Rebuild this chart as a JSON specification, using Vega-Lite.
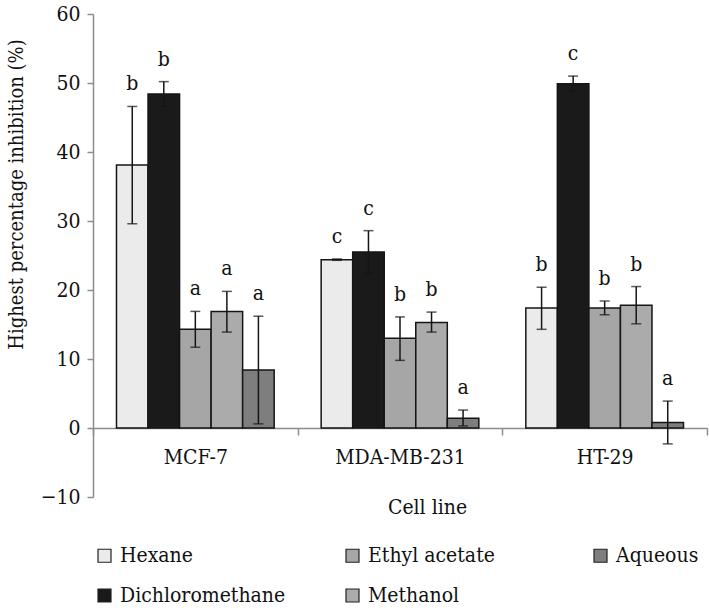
{
  "$schema": "https://vega.github.io/schema/vega-lite/v6.json",
  "width": 614,
  "height": 483,
  "autosize": {"type": "none"},
  "padding": {"left": 93, "top": 14, "right": 2, "bottom": 111},
  "background": "white",
  "config": {
    "view": {"stroke": null},
    "axis": {"labelFont": "DejaVu Serif Condensed", "titleFont": "DejaVu Serif Condensed", "labelColor": "#111", "titleColor": "#111", "titleFontWeight": "normal", "labelFontSize": 21, "titleFontSize": 21, "domainColor": "#8c8c8c", "tickColor": "#8c8c8c", "domainWidth": 1.5, "tickWidth": 1.5, "grid": false},
    "legend": {"labelFont": "DejaVu Serif Condensed", "labelFontSize": 21, "labelColor": "#111"}
  },
  "data": {"values": [
    {"cell": "MCF-7", "solvent": "Hexane", "mean": 38.1, "lo": 29.6, "hi": 46.6, "letter": "b"},
    {"cell": "MCF-7", "solvent": "Dichloromethane", "mean": 48.4, "lo": 46.6, "hi": 50.2, "letter": "b"},
    {"cell": "MCF-7", "solvent": "Ethyl acetate", "mean": 14.3, "lo": 11.7, "hi": 16.9, "letter": "a"},
    {"cell": "MCF-7", "solvent": "Methanol", "mean": 16.9, "lo": 13.9, "hi": 19.8, "letter": "a"},
    {"cell": "MCF-7", "solvent": "Aqueous", "mean": 8.4, "lo": 0.6, "hi": 16.2, "letter": "a"},
    {"cell": "MDA-MB-231", "solvent": "Hexane", "mean": 24.4, "lo": 24.3, "hi": 24.5, "letter": "c"},
    {"cell": "MDA-MB-231", "solvent": "Dichloromethane", "mean": 25.5, "lo": 22.4, "hi": 28.6, "letter": "c"},
    {"cell": "MDA-MB-231", "solvent": "Ethyl acetate", "mean": 13.0, "lo": 9.8, "hi": 16.1, "letter": "b"},
    {"cell": "MDA-MB-231", "solvent": "Methanol", "mean": 15.3, "lo": 13.9, "hi": 16.8, "letter": "b"},
    {"cell": "MDA-MB-231", "solvent": "Aqueous", "mean": 1.4, "lo": 0.3, "hi": 2.6, "letter": "a"},
    {"cell": "HT-29", "solvent": "Hexane", "mean": 17.4, "lo": 14.3, "hi": 20.4, "letter": "b"},
    {"cell": "HT-29", "solvent": "Dichloromethane", "mean": 49.9, "lo": 48.8, "hi": 51.0, "letter": "c"},
    {"cell": "HT-29", "solvent": "Ethyl acetate", "mean": 17.4, "lo": 16.4, "hi": 18.4, "letter": "b"},
    {"cell": "HT-29", "solvent": "Methanol", "mean": 17.8, "lo": 15.1, "hi": 20.5, "letter": "b"},
    {"cell": "HT-29", "solvent": "Aqueous", "mean": 0.8, "lo": -2.3, "hi": 3.9, "letter": "a"}
  ]},
  "encoding": {
    "x": {
      "field": "cell", "type": "nominal", "sort": ["MCF-7", "MDA-MB-231", "HT-29"],
      "scale": {"paddingInner": 0, "paddingOuter": 0},
      "axis": {"title": "Cell line", "labelAngle": 0, "offset": -69, "tickBand": "extent", "tickSize": 7, "labelPadding": 11, "titleX": 334, "titleY": 85, "titleBaseline": "alphabetic", "titleAnchor": null}
    },
    "xOffset": {
      "field": "solvent", "type": "nominal",
      "sort": ["Hexane", "Dichloromethane", "Ethyl acetate", "Methanol", "Aqueous"],
      "scale": {"paddingInner": 0, "paddingOuter": 0.745}
    }
  },
  "layer": [
    {
      "mark": {"type": "bar", "stroke": "#151515", "strokeWidth": 1.5},
      "encoding": {
        "y": {
          "field": "mean", "type": "quantitative",
          "scale": {"domain": [-10, 60], "nice": false, "zero": false},
          "axis": {"title": "Highest percentage inhibition (%)", "titleFontSize": 20, "values": [-10, 0, 10, 20, 30, 40, 50, 60], "tickSize": 6, "labelPadding": 7, "titleX": -67, "titleY": 180, "titleAnchor": null}
        },
        "fill": {
          "field": "solvent", "type": "nominal",
          "scale": {"domain": ["Hexane", "Dichloromethane", "Ethyl acetate", "Methanol", "Aqueous"], "range": ["#ebebeb", "#1a1a1a", "#a6a6a6", "#ababab", "#7e7e7e"]},
          "legend": {"orient": "none", "legendX": 1, "legendY": 531, "columns": 3, "gridAlign": "all", "columnPadding": 56, "rowPadding": 18, "title": null, "symbolType": "square", "symbolSize": 169, "symbolStrokeColor": "#222", "symbolStrokeWidth": 1.2, "labelOffset": 5, "labelLimit": 300}
        }
      }
    },
    {
      "mark": {"type": "rule", "color": "#151515", "strokeWidth": 1.5},
      "encoding": {"y": {"field": "lo", "type": "quantitative"}, "y2": {"field": "hi"}}
    },
    {
      "mark": {"type": "tick", "color": "#151515", "thickness": 1.5, "size": 10},
      "encoding": {"y": {"field": "lo", "type": "quantitative"}}
    },
    {
      "mark": {"type": "tick", "color": "#151515", "thickness": 1.5, "size": 10},
      "encoding": {"y": {"field": "hi", "type": "quantitative"}}
    },
    {
      "mark": {"type": "text", "font": "DejaVu Serif Condensed", "baseline": "alphabetic", "dy": -16, "fontSize": 21, "color": "#111"},
      "encoding": {"y": {"field": "hi", "type": "quantitative"}, "text": {"field": "letter"}}
    }
  ]
}
